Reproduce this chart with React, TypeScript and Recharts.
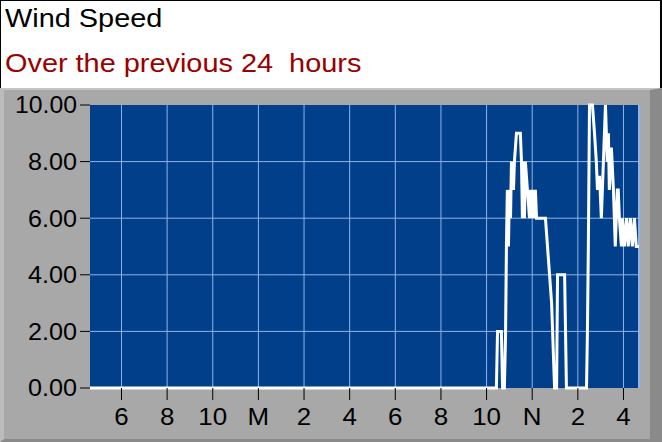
import React from "react";
import { LineChart, Line, XAxis, YAxis, CartesianGrid, ReferenceLine } from "recharts";

// hours since midnight of the first day (values past 24 are the next day)
const hours = [
  16.62, 34.43, 34.48, 34.65, 34.7, 34.78, 34.83, 34.87, 34.91, 34.96, 35.0, 35.05,
  35.09, 35.18, 35.22, 35.31, 35.48, 35.53, 35.57, 35.62, 35.66, 35.7, 35.79, 35.88,
  35.92, 35.97, 36.01, 36.1, 36.14, 36.19, 36.58, 36.67, 36.76, 36.85, 36.98, 37.07,
  37.11, 37.42, 37.5, 38.38, 38.42, 38.46, 38.51, 38.64, 38.73, 38.81, 38.86, 38.95,
  39.03, 39.12, 39.21, 39.29, 39.34, 39.38, 39.47, 39.56, 39.64, 39.73, 39.77, 39.82,
  39.91, 39.95, 40.04, 40.13, 40.21, 40.3, 40.39, 40.48, 40.56, 40.68,
];
const speeds = [
  0, 0, 2, 2, 0, 0, 1.8, 5, 7, 5, 7, 6,
  8, 7, 8, 9, 9, 8, 6, 8, 6, 8, 7, 6,
  7, 6, 7, 6, 7, 6, 6, 5, 4, 3, 0, 0,
  4, 4, 0, 0, 2, 5, 10, 10, 9, 8, 7, 7.5,
  6, 8, 10, 8, 9, 7, 8.5, 7, 5, 7, 7, 6,
  5, 6, 5, 6, 5, 6, 5, 6, 5, 5,
];

const xTicks = [18, 20, 22, 24, 26, 28, 30, 32, 34, 36, 38, 40];
const xLabels = ["6", "8", "10", "M", "2", "4", "6", "8", "10", "N", "2", "4"];
const yTicks = [0, 2, 4, 6, 8, 10];

const data = hours.map((h, i) => ({ h, speed: speeds[i] }));

const font = "Arial, 'Liberation Sans', sans-serif";

function XTick(props: any) {
  const { x, y, payload } = props;
  return (
    <text
      transform={`translate(${x},${y}) scale(1.08,1)`}
      dy="0.72em"
      textAnchor="middle"
      fontSize={24}
      fontFamily={font}
      fill="#000"
    >
      {xLabels[xTicks.indexOf(payload.value)]}
    </text>
  );
}

function YTick(props: any) {
  const { x, y, payload } = props;
  const label = Number(payload.value).toFixed(2);
  return (
    <text
      x={x}
      y={y}
      dy="0.35em"
      textAnchor="end"
      fontSize={24}
      fontFamily={font}
      fill="#000"
      textLength={label.length === 5 ? 62 : 49}
      lengthAdjust="spacingAndGlyphs"
    >
      {label}
    </text>
  );
}

const headText = {
  position: "absolute" as const,
  left: 4,
  fontSize: 25,
  whiteSpace: "pre" as const,
  transform: "scaleX(1.155)",
  transformOrigin: "left top",
};

export default function App() {
  return (
    <div style={{ position: "absolute", left: 0, top: 0, width: 662, height: 442, fontFamily: font }}>
      <div
        style={{
          position: "absolute",
          left: 0,
          top: 0,
          width: 662,
          height: 88,
          boxSizing: "border-box",
          background: "#fff",
          borderTop: "1px solid #000",
          borderLeft: "1px solid #000",
          borderRight: "2px solid #000",
        }}
      >
        <div style={{ ...headText, top: 3, color: "#000" }}>Wind Speed</div>
        <div style={{ ...headText, top: 48, color: "#990000" }}>Over the previous 24  hours</div>
      </div>
      <div
        style={{
          position: "absolute",
          left: 0,
          top: 88,
          width: 662,
          height: 354,
          boxSizing: "border-box",
          background: "#a8a8a8",
          borderTop: "2px solid #c4c4c4",
          borderLeft: "4px solid #bcbcbc",
          borderRight: "12px solid #8a8a8a",
          borderBottom: "3px solid #8a8a8a",
        }}
      />
      <div style={{ position: "absolute", left: 0, top: 0 }}>
        <LineChart width={662} height={442} data={data} margin={{ top: 105, right: 23, bottom: 0, left: 0 }}>
          <CartesianGrid fill="#023f8b" stroke="#8fb3ea" strokeWidth={1} horizontalValues={[2, 4, 6, 8]} verticalValues={xTicks} />
          <XAxis
            dataKey="h"
            type="number"
            domain={[16.62, 40.68]}
            ticks={xTicks}
            axisLine={false}
            tickLine={{ stroke: "#000" }}
            tickSize={12}
            tickMargin={8}
            height={54}
            tick={<XTick />}
            interval={0}
          />
          <YAxis
            type="number"
            domain={[0, 10]}
            ticks={yTicks}
            axisLine={false}
            tickLine={{ stroke: "#000" }}
            tickSize={10}
            tickMargin={3}
            width={90}
            tick={<YTick />}
            interval={0}
          />
          <ReferenceLine x={40.68} stroke="#8fb3ea" strokeWidth={2} />
          <Line
            type="linear"
            dataKey="speed"
            stroke="#ffffff"
            strokeWidth={3}
            dot={false}
            isAnimationActive={false}
          />
        </LineChart>
      </div>
    </div>
  );
}
